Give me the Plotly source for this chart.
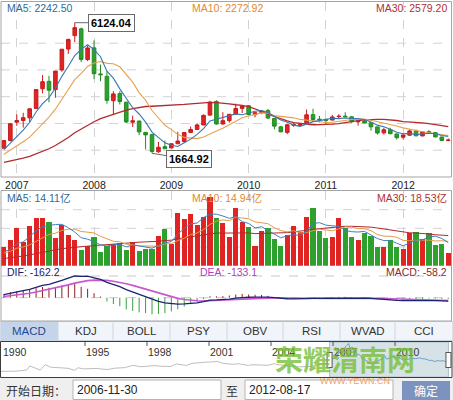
import plotly.graph_objects as go

W, H = 453, 400

# ---------------- data (monthly, Shanghai Composite, 2006-11 .. 2012-08) ----------------
start_year, start_month = 2006, 11
opens = [1838, 2101, 2728, 2786, 2876, 3196, 3868, 4121, 3842, 4512, 5225, 5683, 5914, 4868,
         5265, 4375, 4292, 3460, 3705, 3409, 2727, 2766, 2380, 2304, 1719, 1893, 1849, 1991,
         2066, 2376, 2478, 2632, 2969, 3437, 2667, 2780, 3002, 3197, 3289, 2986, 3060, 3124,
         2852, 2568, 2380, 2622, 2618, 2688, 2986, 2830, 2825, 2799, 2918, 2933, 2911, 2739,
         2764, 2707, 2567, 2363, 2470, 2325, 2212, 2283, 2428, 2259, 2401, 2371, 2220, 2107]
highs = [2102, 2698.9, 2994.3, 3049, 3197, 3845, 4335.96, 4311, 4476, 5221, 5581, 6124.04, 5955, 5343,
         5522, 4695, 4472, 3786, 3786, 3430, 2952, 2783, 2391, 2333, 2051, 2100, 2014, 2402,
         2375, 2579, 2688, 2993, 3454, 3478, 3068, 2998, 3361, 3294, 3306, 3066, 3133, 3181,
         2875, 2605, 2678, 2702, 2673, 3159, 3186.7, 2940, 2839, 2977, 3001, 3067.46, 2927, 2781,
         2826, 2710, 2575, 2536, 2537, 2339, 2301, 2478, 2478, 2402, 2453, 2382, 2234, 2173]
lows = [1822, 2073, 2606, 2541, 2716, 3184, 3713, 3404, 3563, 4450, 5060, 5462, 4778, 4812,
        4195, 4123, 3357, 2990, 3333, 2693, 2566, 2284, 1802, 1664.92, 1678, 1814, 1844, 1985,
        2037, 2370, 2460, 2625, 2953, 2639, 2639, 2712, 2988, 3039, 2963, 2890, 2999, 2834,
        2481, 2382, 2319, 2571, 2573, 2685, 2744, 2721, 2661, 2792, 2851, 2901, 2707, 2610,
        2699, 2437, 2306, 2307, 2319, 2134, 2132, 2261, 2242, 2244, 2333, 2204, 2099, 2076]
closes = [2099.29, 2675.47, 2786.34, 2881.07, 3183.98, 3841.27, 4109.65, 3820.70, 4471.03, 5218.83,
          5552.30, 5954.77, 4871.78, 5261.56, 4383.39, 4348.54, 3472.71, 3693.11, 3433.35, 2736.10,
          2775.72, 2397.37, 2293.78, 1728.79, 1871.16, 1820.81, 1990.66, 2082.85, 2373.21, 2477.57,
          2632.93, 2959.36, 3412.06, 2667.74, 2779.43, 2995.85, 3195.30, 3277.14, 2989.29, 3051.94,
          3109.11, 2870.61, 2592.15, 2398.37, 2637.50, 2638.80, 2655.66, 2978.84, 2820.18, 2808.08,
          2790.69, 2905.05, 2928.11, 2911.51, 2743.47, 2762.08, 2701.73, 2567.34, 2359.22, 2468.25,
          2333.41, 2199.42, 2292.61, 2428.49, 2262.79, 2396.32, 2372.23, 2225.43, 2103.63, 2114.89]
volumes = [11.7, 15.8, 22.9, 14.7, 24.4, 29.1, 29.1, 27.0, 16.8, 25.0, 18.8, 15.8, 9.6, 12.1,
           17.8, 8.6, 12.1, 13.3, 14.1, 9.6, 14.7, 9.2, 10.2, 10.0, 18.2, 22.5, 13.3, 32.5,
           28.4, 31.7, 25.0, 30.1, 42.4, 29.1, 26.0, 17.8, 35.2, 27.0, 23.9, 12.1, 21.5, 23.3,
           16.4, 12.1, 18.8, 24.4, 20.9, 30.1, 35.2, 21.5, 16.8, 17.8, 29.1, 22.9, 17.8, 15.8,
           19.8, 18.2, 11.7, 11.7, 15.8, 11.7, 10.2, 20.3, 20.9, 16.2, 20.3, 12.9, 13.3, 8.0]

# earlier months, only used to warm up the moving averages / MACD (2003-01 .. 2006-10)
pre_closes = [1499.8, 1511.9, 1510.7, 1521.4, 1576.1, 1486.0, 1476.7, 1421.5, 1367.2, 1348.3, 1397.2, 1497.0,
              1590.7, 1675.1, 1741.6, 1595.6, 1555.9, 1399.2, 1386.2, 1342.1, 1396.7, 1320.5, 1340.8, 1266.5,
              1191.8, 1306.0, 1181.2, 1159.1, 1060.7, 1080.9, 1083.0, 1162.8, 1155.6, 1092.8, 1099.3, 1161.1,
              1258.0, 1299.0, 1298.3, 1440.2, 1641.3, 1672.2, 1612.7, 1658.6, 1752.4, 1837.9]
pre_volumes = [3.0, 2.5, 2.2, 3.5, 2.6, 3.0, 2.2,
               1.8, 2.2, 2.6, 3.0, 2.3, 3.5, 2.2, 4.0, 3.5, 2.3, 2.4, 3.2,
               3.5, 4.5, 4.0, 7.0, 11.0, 8.5, 7.0, 6.5, 9.0, 8.0]

# navigator history (1990-12 .. 2002-12)
nav_hist_months = ["1990-12", "1991-03", "1991-06", "1991-09", "1991-12", "1992-03", "1992-05", "1992-08",
                   "1992-11", "1992-12", "1993-02", "1993-05", "1993-08", "1993-12", "1994-03", "1994-07",
                   "1994-09", "1994-12", "1995-03", "1995-05", "1995-08", "1995-12", "1996-03", "1996-06",
                   "1996-09", "1996-12", "1997-03", "1997-05", "1997-09", "1997-12", "1998-03", "1998-06",
                   "1998-09", "1998-12", "1999-03", "1999-06", "1999-09", "1999-12", "2000-03", "2000-06",
                   "2000-09", "2000-12", "2001-03", "2001-06", "2001-09", "2001-12", "2002-03", "2002-06",
                   "2002-09", "2002-12"]
nav_hist_values = [128, 120, 137, 180, 293, 390, 1266, 820, 400, 780, 1536, 1000, 900, 834, 780, 334,
                   900, 648, 640, 700, 750, 555, 560, 790, 800, 917, 1200, 1400, 1100, 1194, 1240, 1339,
                   1200, 1147, 1160, 1690, 1550, 1367, 1800, 1928, 1910, 2074, 2112, 2218, 1800, 1646,
                   1600, 1732, 1580, 1358]
nav_tick_years = [1995, 1998, 2001, 2004, 2007, 2010]

header_main = ["MA5: 2242.50", "MA10: 2272.92", "MA30: 2579.20"]
header_vol = ["MA5: 14.11亿", "MA10: 14.94亿", "MA30: 18.53亿"]
header_macd = ["DIF: -162.2", "DEA: -133.1", "MACD: -58.2"]
tab_labels = ["MACD", "KDJ", "BOLL", "PSY", "OBV", "RSI", "WVAD", "CCI"]
start_date_text, end_date_text = "2006-11-30", "2012-08-17"

# ---------------- derived series ----------------
n = len(closes)
idx = list(range(n))
ym = [(start_year + (start_month - 1 + i) // 12, (start_month - 1 + i) % 12 + 1) for i in idx]
jan_idx = [i for i, (y, m) in enumerate(ym) if m == 1]
jan_txt = [str(ym[i][0]) for i in jan_idx]


def sma(arr, w):
    out = []
    for i in range(len(arr)):
        seg = arr[max(0, i - w + 1): i + 1]
        out.append(sum(seg) / len(seg))
    return out


def ema(arr, w):
    a = 2.0 / (w + 1)
    out = [arr[0]]
    for v in arr[1:]:
        out.append(a * v + (1 - a) * out[-1])
    return out


all_c = pre_closes + closes
ma5, ma10, ma30 = (sma(all_c, w)[-n:] for w in (5, 10, 30))
all_v = pre_volumes + volumes
vma5, vma10, vma30 = (sma(all_v, w)[-n:] for w in (5, 10, 30))
e12, e26 = ema(all_c, 12), ema(all_c, 26)
dif_all = [a - b for a, b in zip(e12, e26)]
dea_all = ema(dif_all, 9)
dif = dif_all[-n:]
dea = dea_all[-n:]
macd = [2 * (a - b) for a, b in zip(dif, dea)]
up = [c >= o for o, c in zip(opens, closes)]

RED, GREEN = "#e02424", "#2ea02e"


def px(p):
    return p / W


def py(p):
    return 1 - p / H


fig = go.Figure()

# ---------------- main price panel ----------------
fig.add_trace(go.Candlestick(
    x=idx, open=opens, high=highs, low=lows, close=closes,
    increasing=dict(fillcolor=RED, line=dict(color="#c81c1c", width=1)),
    decreasing=dict(fillcolor=GREEN, line=dict(color="#238c23", width=1)),
    whiskerwidth=0, hoverinfo="skip", xaxis="x", yaxis="y", showlegend=False))
for s, c, w in ((ma30, "#b42a2a", 1.3), (ma10, "#e8a050", 1.1), (ma5, "#3a76b0", 1.1)):
    fig.add_trace(go.Scatter(x=idx, y=s, mode="lines", line=dict(color=c, width=w),
                             hoverinfo="skip", showlegend=False, xaxis="x", yaxis="y"))

# ---------------- volume panel ----------------
fig.add_trace(go.Bar(x=idx, y=volumes, width=0.8,
                     marker=dict(color=[RED if u else GREEN for u in up], line=dict(width=0)),
                     hoverinfo="skip", showlegend=False, xaxis="x2", yaxis="y2"))
for s, c in ((vma30, "#b42a2a"), (vma10, "#e39a4a"), (vma5, "#3f7fbf")):
    fig.add_trace(go.Scatter(x=idx, y=s, mode="lines", line=dict(color=c, width=1),
                             hoverinfo="skip", showlegend=False, xaxis="x2", yaxis="y2"))

# ---------------- MACD panel ----------------
for positive, col in ((True, "#8c1f1f"), (False, "#3c9c3c")):
    hx, hy = [], []
    for i, v in zip(idx, macd):
        if (v >= 0) == positive:
            hx += [i, i, None]
            hy += [0, v, None]
    fig.add_trace(go.Scatter(x=hx, y=hy, mode="lines", line=dict(color=col, width=1),
                             hoverinfo="skip", showlegend=False, xaxis="x3", yaxis="y3"))
fig.add_trace(go.Scatter(x=idx, y=dea, mode="lines", line=dict(color="#c858d0", width=1.6),
                         hoverinfo="skip", showlegend=False, xaxis="x3", yaxis="y3"))
fig.add_trace(go.Scatter(x=idx, y=dif, mode="lines", line=dict(color="#1c2270", width=1.3),
                         hoverinfo="skip", showlegend=False, xaxis="x3", yaxis="y3"))

# ---------------- navigator ----------------
def dec_year(s):
    y, m = s.split("-")
    return int(y) + (int(m) - 1) / 12.0


pre_months = ["%d-%02d" % (2003 + k // 12, k % 12 + 1) for k in range(len(pre_closes))]
nav_gray_x = [dec_year(s) for s in nav_hist_months + pre_months] + [dec_year("2006-11")]
nav_gray_y = nav_hist_values + pre_closes + [closes[0]]
nav_sel_x = [y + (m - 1) / 12.0 for (y, m) in ym]
fig.add_trace(go.Scatter(x=nav_gray_x, y=nav_gray_y, mode="lines", line=dict(color="#bdbdbd", width=1),
                         hoverinfo="skip", showlegend=False, xaxis="x4", yaxis="y4"))
fig.add_trace(go.Scatter(x=nav_sel_x, y=closes, mode="lines", line=dict(color="#6a9fd0", width=1),
                         hoverinfo="skip", showlegend=False, xaxis="x4", yaxis="y4"))

# ---------------- axes ----------------
x0_px, step_px = 3.9, 6.44
xr = [-x0_px / step_px, -x0_px / step_px + W / step_px]
hi, lo = max(highs), min(lows)
hi_px, lo_px = 22.7, 153.3
k = (lo_px - hi_px) / (hi - lo)
yr = [lo - (177 - lo_px) / k, hi + (hi_px - 2) / k]
vol_scale = 0.614
vr = [0, (265.7 - 191) * vol_scale]
M = max(abs(v) for v in dif)
s_m = M / (297.7 - 276)
mr = [-(320.5 - 297.7) * s_m, (297.7 - 266.5) * s_m]
nav_max = max(closes)
kn = (372 - 343.5) / nav_max
nr = [-(377 - 372) / kn, (372 - 342) / kn]
nav_px_per_year = 20.67
nxr = [1995 - 85 / nav_px_per_year, 1995 + (W - 85) / nav_px_per_year]

grid = dict(showgrid=True, gridcolor="#d2d2d2", griddash="dash", gridwidth=1)
base = dict(zeroline=False, showline=False, fixedrange=True)
fig.update_layout(
    width=W, height=H, margin=dict(l=0, r=0, t=0, b=0),
    paper_bgcolor="white", plot_bgcolor="rgba(0,0,0,0)",
    boxgap=0.2, bargap=0, showlegend=False,
    font=dict(family="Arial, Liberation Sans, Noto Sans CJK SC", size=11, color="#333"),
    xaxis=dict(domain=[0, 1], range=xr, tickmode="array", tickvals=jan_idx, ticktext=jan_txt,
               ticks="", tickfont=dict(size=10.5, color="#222"), rangeslider=dict(visible=False),
               anchor="y", **grid, **base),
    yaxis=dict(domain=[py(177), py(2)], range=yr, showgrid=False, showticklabels=False, anchor="x", **base),
    xaxis2=dict(domain=[0, 1], range=xr, tickmode="array", tickvals=jan_idx, showticklabels=False,
                anchor="y2", **grid, **base),
    yaxis2=dict(domain=[py(265.7), py(191)], range=vr, showgrid=False, showticklabels=False,
                anchor="x2", **base),
    xaxis3=dict(domain=[0, 1], range=xr, showgrid=False, showticklabels=False, anchor="y3", **base),
    yaxis3=dict(domain=[py(320.5), py(266.5)], range=mr, showgrid=False, showticklabels=False,
                anchor="x3", **base),
    xaxis4=dict(domain=[0, 1], range=nxr, showgrid=False, showticklabels=False, anchor="y4", **base),
    yaxis4=dict(domain=[py(377), py(342)], range=nr, showgrid=False, showticklabels=False,
                anchor="x4", **base),
)

shapes = []
ann = []

# main panel gridlines + frame
for gy in (43.2, 69.9, 96.7, 123.5, 150.2):
    shapes.append(dict(type="line", xref="paper", yref="paper", x0=px(1), x1=px(451.5), y0=py(gy), y1=py(gy),
                       line=dict(color="#d2d2d2", width=1, dash="dash"), layer="below"))
shapes.append(dict(type="rect", xref="paper", yref="paper", x0=px(1), x1=px(451.5), y0=py(177), y1=py(1.5),
                   line=dict(color="#a4a4a4", width=1)))
# volume gridlines
for gy in (209.7, 228.35, 247.0):
    shapes.append(dict(type="line", xref="paper", yref="paper", x0=px(1), x1=px(451.5), y0=py(gy), y1=py(gy),
                       line=dict(color="#d2d2d2", width=1, dash="dash"), layer="below"))
# macd gridlines (zero and top)
for gv in (0, M):
    shapes.append(dict(type="line", xref="paper", yref="y3", x0=px(1), x1=px(451.5), y0=gv, y1=gv,
                       line=dict(color="#c8c8c8", width=1, dash="dash"), layer="below"))
# volume + macd frame
shapes.append(dict(type="rect", xref="paper", yref="paper", x0=px(1), x1=px(451.5), y0=py(321), y1=py(190.5),
                   line=dict(color="#a4a4a4", width=1)))

# tab bar
tab_edges = [0, 58, 113, 170, 227, 283, 340, 395, 453]
shapes.append(dict(type="rect", xref="paper", yref="paper", x0=0, x1=1, y0=py(340.5), y1=py(321.5),
                   fillcolor="#f1f4f9", line=dict(color="#c9d3e2", width=1), layer="below"))
shapes.append(dict(type="rect", xref="paper", yref="paper", x0=px(0.5), x1=px(58), y0=py(340.5), y1=py(321.5),
                   fillcolor="#c6d4ea", line=dict(width=0), layer="below"))
for e in tab_edges[1:-1]:
    shapes.append(dict(type="line", xref="paper", yref="paper", x0=px(e), x1=px(e), y0=py(339.5), y1=py(322.5),
                       line=dict(color="#cdd6e3", width=1)))
for i, t in enumerate(tab_labels):
    ann.append(dict(xref="paper", yref="paper", x=px((tab_edges[i] + tab_edges[i + 1]) / 2), y=py(331),
                    text=t, showarrow=False, xanchor="center", yanchor="middle",
                    font=dict(size=11.5, color="#1f4a90" if i == 0 else "#333")))

# navigator
sel_x0, sel_x1 = nav_sel_x[0], nav_sel_x[-1]
shapes.append(dict(type="rect", xref="x4", yref="paper", x0=sel_x0, x1=sel_x1, y0=py(377), y1=py(342),
                   fillcolor="#d7e2e6", line=dict(color="#aebfc6", width=1), layer="below"))
shapes.append(dict(type="rect", xref="paper", yref="paper", x0=px(0.5), x1=px(452), y0=py(377.5), y1=py(341.5),
                   line=dict(color="#3c3c3c", width=1)))
for ty in nav_tick_years:
    shapes.append(dict(type="line", xref="x4", yref="paper", x0=ty, x1=ty, y0=py(342), y1=py(346),
                       line=dict(color="#555", width=1)))
    ann.append(dict(xref="x4", yref="paper", x=ty, y=py(351.5), text=str(ty), showarrow=False,
                    xanchor="left", yanchor="middle", xshift=-1, font=dict(size=10.5, color="#333")))
ann.append(dict(xref="paper", yref="paper", x=px(1), y=py(351.5), text="1990", showarrow=False,
                xanchor="left", yanchor="middle", font=dict(size=10.5, color="#333")))
for hx in (sel_x0, sel_x1):
    shapes.append(dict(type="rect", xref="x4", yref="paper", x0=hx, x1=hx, y0=py(368), y1=py(352),
                       line=dict(color="#555", width=6)))
    shapes.append(dict(type="rect", xref="x4", yref="paper", x0=hx, x1=hx, y0=py(367), y1=py(353),
                       line=dict(color="white", width=4)))

# date bar
shapes.append(dict(type="rect", xref="paper", yref="paper", x0=0, x1=1, y0=0, y1=py(378),
                   fillcolor="#efefef", line=dict(width=0), layer="below"))
for bx0, bx1 in ((73, 221), (245, 393)):
    shapes.append(dict(type="rect", xref="paper", yref="paper", x0=px(bx0), x1=px(bx1), y0=py(399.5), y1=py(380),
                       fillcolor="white", line=dict(color="#b4b4b4", width=1)))
shapes.append(dict(type="rect", xref="paper", yref="paper", x0=px(402), x1=px(450), y0=py(400), y1=py(381),
                   fillcolor="#7b93be", line=dict(width=0)))
cjk = "Noto Sans CJK SC, Arial"
ann += [
    dict(xref="paper", yref="paper", x=px(4), y=py(390), text="开始日期：", showarrow=False, xanchor="left",
         yanchor="middle", font=dict(size=12, color="#333", family=cjk)),
    dict(xref="paper", yref="paper", x=px(75), y=py(390), text=start_date_text, showarrow=False, xanchor="left",
         yanchor="middle", font=dict(size=12, color="#222")),
    dict(xref="paper", yref="paper", x=px(232), y=py(390), text="至", showarrow=False, xanchor="center",
         yanchor="middle", font=dict(size=12, color="#333", family=cjk)),
    dict(xref="paper", yref="paper", x=px(247), y=py(390), text=end_date_text, showarrow=False, xanchor="left",
         yanchor="middle", font=dict(size=12, color="#222")),
    dict(xref="paper", yref="paper", x=px(426), y=py(390.5), text="确定", showarrow=False, xanchor="center",
         yanchor="middle", font=dict(size=12, color="white", family=cjk)),
]

# watermark
ann += [
    dict(xref="paper", yref="paper", x=px(345), y=py(359), text="荣耀渭南网", showarrow=False,
         xanchor="center", yanchor="middle",
         font=dict(size=28, color="rgba(120,190,55,0.8)", family="Noto Sans CJK SC", weight="bold")),
    dict(xref="paper", yref="paper", x=px(355), y=py(380.5), text="WWW.YEWN.CN", showarrow=False,
         xanchor="center", yanchor="middle", font=dict(size=9, color="#f0a068")),
]

# panel headers
hdr_y = (8, 198, 272)
hdr_col = (("#2f6b9a", "#e08a30", "#b03030"), ("#2f6b9a", "#e08a30", "#b03030"),
           ("#1c1c6c", "#b040c0", "#8b2a2a"))
hdr_mid_x = (190, 190, 198)
for texts, yy, cols, mx in zip((header_main, header_vol, header_macd), hdr_y, hdr_col, hdr_mid_x):
    ann.append(dict(xref="paper", yref="paper", x=px(5), y=py(yy), text=texts[0], showarrow=False,
                    xanchor="left", yanchor="middle", font=dict(size=10.5, color=cols[0])))
    ann.append(dict(xref="paper", yref="paper", x=px(mx), y=py(yy), text=texts[1], showarrow=False,
                    xanchor="left", yanchor="middle", font=dict(size=10.5, color=cols[1])))
    ann.append(dict(xref="paper", yref="paper", x=px(449), y=py(yy), text=texts[2], showarrow=False,
                    xanchor="right", yanchor="middle", font=dict(size=10.5, color=cols[2])))

# high / low callouts
i_hi = highs.index(hi)
i_lo = lows.index(lo)
box = dict(bgcolor="white", bordercolor="#6a6a6a", borderwidth=1, borderpad=2, showarrow=True,
           arrowhead=0, arrowwidth=1, arrowcolor="#6a6a6a", standoff=0,
           font=dict(size=11, color="black", weight="bold"))
ann.append(dict(xref="x", yref="y", x=i_hi, y=hi, text="%.2f" % hi, ax=37, ay=0, **box))
ann.append(dict(xref="x", yref="y", x=i_lo, y=lo, text="%.2f" % lo, ax=37, ay=6, **box))

fig.update_layout(shapes=shapes, annotations=ann)
fig.write_html("out.html", config={"displayModeBar": False})
